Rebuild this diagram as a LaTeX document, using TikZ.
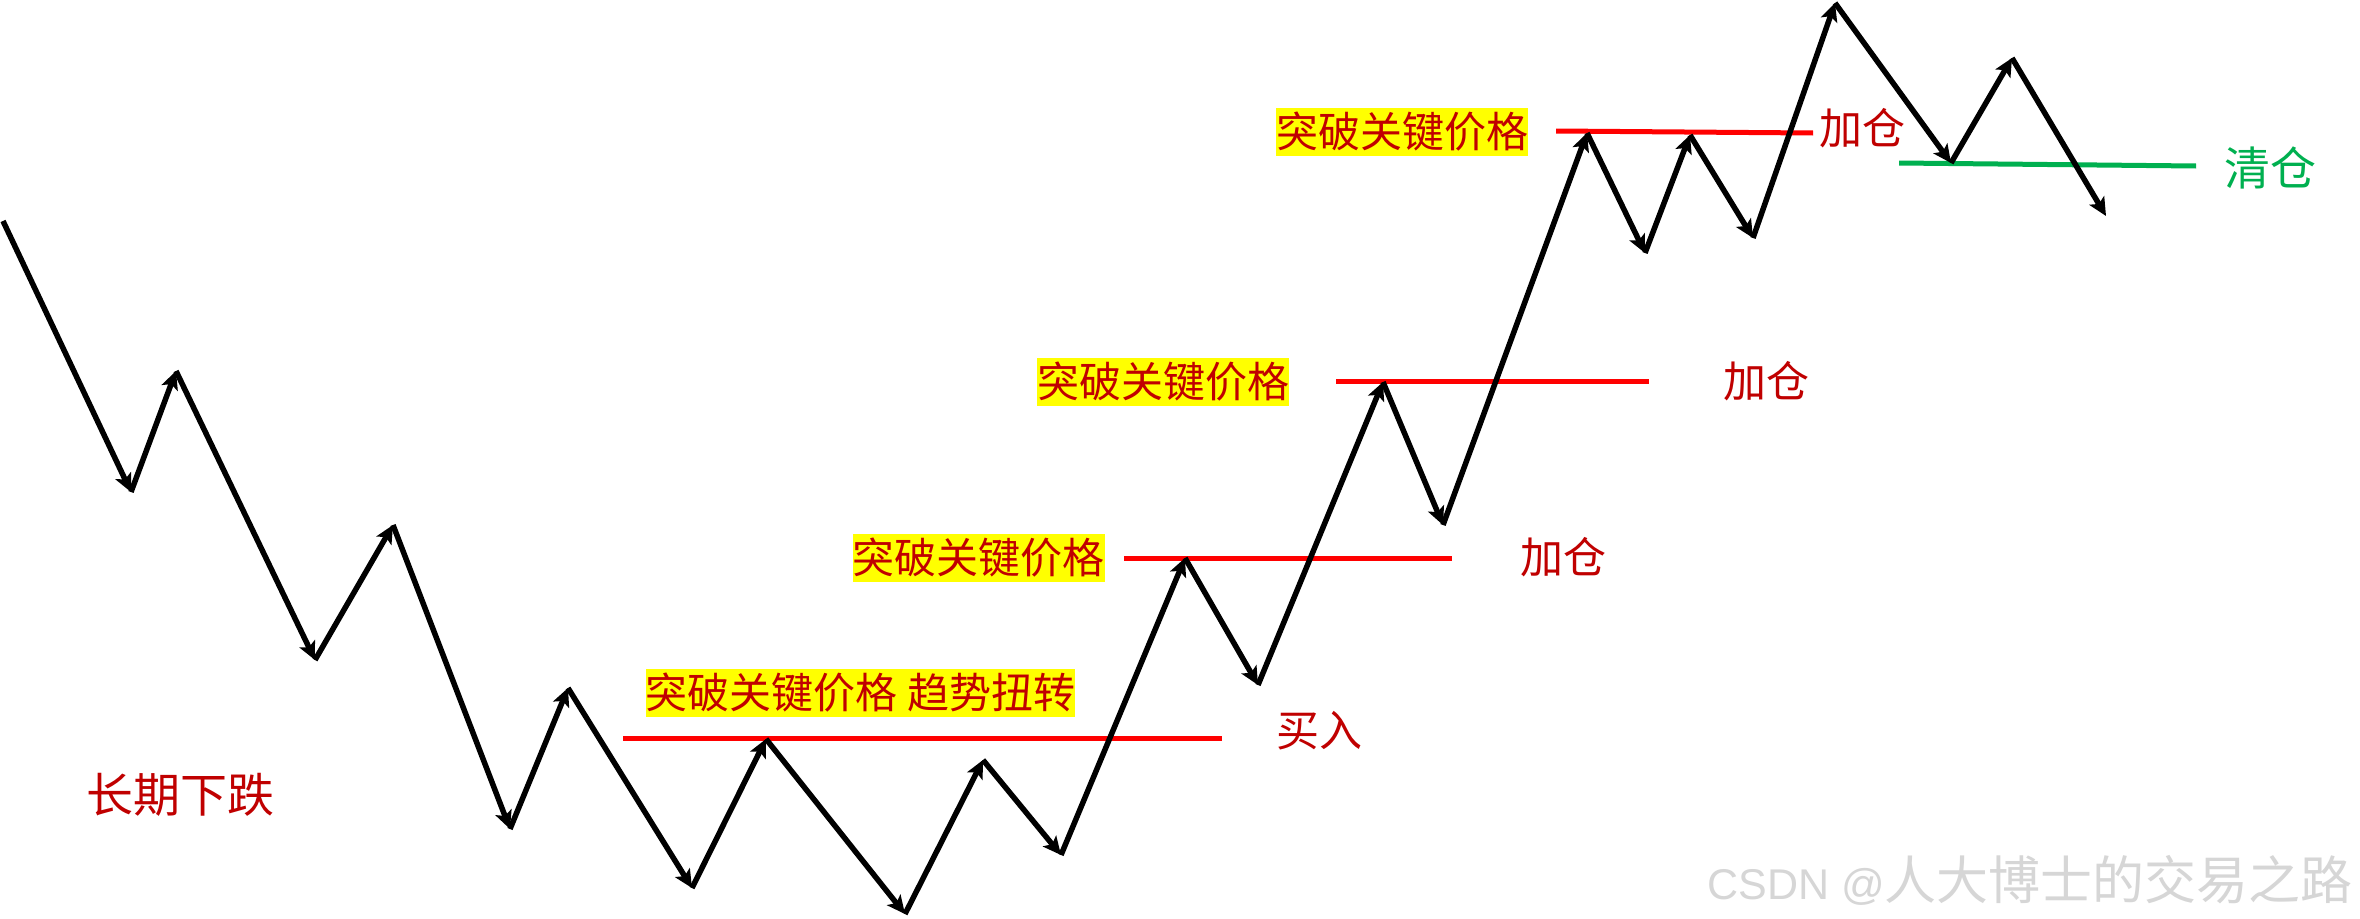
\documentclass[tikz,border=0pt]{standalone}
\usepackage{fontspec}
\setmainfont{Noto Sans CJK SC}
\newfontfamily\wmlatin{Liberation Sans}
\usetikzlibrary{arrows.meta}
\definecolor{lblred}{HTML}{C00000}
\definecolor{keyred}{HTML}{FF0000}
\definecolor{exitgreen}{HTML}{00B050}
\definecolor{hilite}{HTML}{FFFF00}
\definecolor{wmgray}{HTML}{D6D6D6}
\begin{document}
\begin{tikzpicture}[x=1pt,y=-1pt,
  seg/.style={line width=5.5pt, -{Stealth[length=18pt,width=17pt,inset=4pt]}},
  keyline/.style={line width=5pt, draw=keyred},
  exitline/.style={line width=5pt, draw=exitgreen},
  keylabel/.style={fill=hilite, text=lblred, font=\fontsize{42}{48}\selectfont, inner xsep=0pt, inner ysep=0pt, minimum height=48pt},
  action/.style={text=lblred, font=\fontsize{43}{50}\selectfont, inner sep=0pt},
]
\useasboundingbox[fill=white] (0,0) rectangle (2360,918);

% price path vertices
\coordinate (v0) at (3,221);
\coordinate (v1) at (131,492);
\coordinate (v2) at (176,371);
\coordinate (v3) at (315,660);
\coordinate (v4) at (393,525);
\coordinate (v5) at (510,829);
\coordinate (v6) at (568,688);
\coordinate (v7) at (692,888);
\coordinate (v8) at (766,739);
\coordinate (v9) at (905,914);
\coordinate (v10) at (983,760);
\coordinate (v11) at (1061,855);
\coordinate (v12) at (1185,558);
\coordinate (v13) at (1258,685);
\coordinate (v14) at (1383,382);
\coordinate (v15) at (1443,525);
\coordinate (v16) at (1587,133);
\coordinate (v17) at (1645,253);
\coordinate (v18) at (1690,135);
\coordinate (v19) at (1753,238);
\coordinate (v20) at (1835,3);
\coordinate (v21) at (1951,163);
\coordinate (v22) at (2012,58);
\coordinate (v23) at (2106,216);

% key price lines
\coordinate (k1a) at (623,738);  \coordinate (k1b) at (1222,738);
\coordinate (k2a) at (1124,558); \coordinate (k2b) at (1452,558);
\coordinate (k3a) at (1336,381); \coordinate (k3b) at (1649,381);
\coordinate (k4a) at (1556,131); \coordinate (k4b) at (1813,133);
\coordinate (g1a) at (1899,163); \coordinate (g1b) at (2196,166);

\draw[keyline] (k1a) -- (k1b);
\draw[keyline] (k2a) -- (k2b);
\draw[keyline] (k3a) -- (k3b);
\draw[keyline] (k4a) -- (k4b);
\draw[exitline] (g1a) -- (g1b);

\foreach \a/\b in {0/1,1/2,2/3,3/4,4/5,5/6,6/7,7/8,8/9,9/10,10/11,11/12,12/13,13/14,14/15,15/16,16/17,17/18,18/19,19/20,20/21,21/22,22/23}
  \draw[seg] (v\a) -- (v\b);

% labels
\node[keylabel] (kl1) at (860.5,693) {突破关键价格 趋势扭转};
\node[keylabel] (kl2) at (978.5,557.5) {突破关键价格};
\node[keylabel] (kl3) at (1163,381.5) {突破关键价格};
\node[keylabel] (kl4) at (1402,131.5) {突破关键价格};

\node[action] (buy) at (1319,731) {买入};
\node[action] (add1) at (1563,557) {加仓};
\node[action] (add2) at (1766,381) {加仓};
\node[action] (add3) at (1862,128) {加仓};
\node[action, text=exitgreen, font=\fontsize{46}{52}\selectfont] (exit) at (2270,168) {清仓};
\node[action, font=\fontsize{47}{54}\selectfont] (down) at (180,795) {长期下跌};

\node[text=wmgray, inner sep=0pt, anchor=east] (wm) at (2353,880)
  {{\wmlatin\fontsize{43}{48}\selectfont CSDN @}{\fontsize{52}{60}\selectfont 人大博士的交易之路}};
\end{tikzpicture}
\end{document}
